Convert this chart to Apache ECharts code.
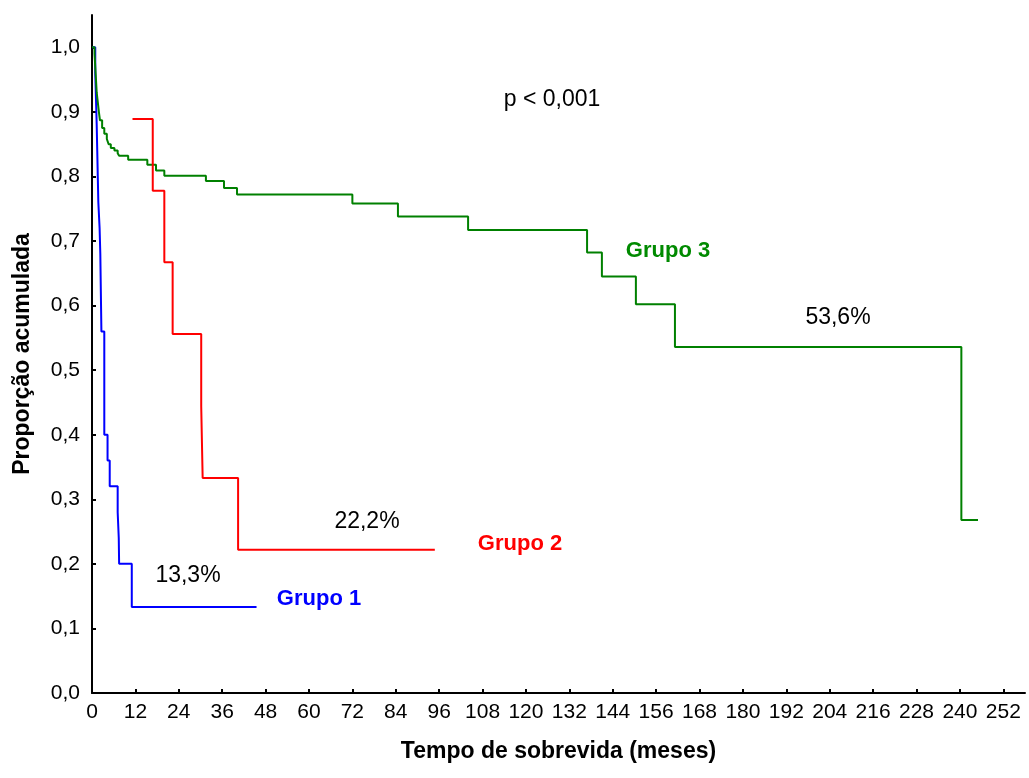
<!DOCTYPE html>
<html>
<head>
<meta charset="utf-8">
<script src="https://cdn.jsdelivr.net/npm/echarts@6/dist/echarts.min.js"></script>
<style>
html,body{margin:0;padding:0;background:#fff;}
#chart{width:1029px;height:778px;}
</style>
</head>
<body>
<div id="chart"></div>
<script>
// Group 1 (blue)
const g1Time = [0, 0.9, 1.1, 1.3, 1.45, 1.6, 1.75, 2.1, 2.3, 2.6, 3.4, 4.3, 4.9, 7.1, 7.4, 7.5, 11.0, 45.5];
const g1Surv = [1.0, 0.96, 0.92, 0.88, 0.84, 0.80, 0.76, 0.72, 0.68, 0.56, 0.40, 0.36, 0.32, 0.28, 0.24, 0.20, 0.133, 0.133];
// Group 2 (red)
const g2Time = [11.2, 16.8, 20.0, 22.3, 30.2, 30.6, 40.4, 94.8];
const g2Surv = [0.889, 0.778, 0.667, 0.556, 0.444, 0.333, 0.222, 0.222];
// Group 3 (green)
const g3Time = [0, 0.7, 0.9, 1.1, 1.3, 1.5, 1.7, 1.9, 2.2, 2.8, 3.4, 4.1, 4.6, 5.2, 6.2, 7.1, 7.5, 10.0, 15.3, 17.7, 20.0, 31.5, 36.5, 40.1, 72.0, 84.6, 104.0, 136.9, 141.0, 150.4, 161.2, 240.4, 245.0];
const g3Surv = [1.0, 0.99, 0.97, 0.95, 0.93, 0.92, 0.91, 0.90, 0.887, 0.875, 0.866, 0.858, 0.850, 0.844, 0.840, 0.836, 0.832, 0.826, 0.818, 0.809, 0.801, 0.793, 0.782, 0.772, 0.758, 0.738, 0.717, 0.682, 0.645, 0.602, 0.536, 0.268, 0.268];

const xTicks = [0,12,24,36,48,60,72,84,96,108,120,132,144,156,168,180,192,204,216,228,240,252];
const yTicks = [0,0.1,0.2,0.3,0.4,0.5,0.6,0.7,0.8,0.9,1.0];

const annotations = [
  {text: 'p < 0,001', x: 552, y: 100, color: '#000', bold: false},
  {text: '53,6%', x: 838, y: 318, color: '#000', bold: false},
  {text: '22,2%', x: 367, y: 522, color: '#000', bold: false},
  {text: '13,3%', x: 188, y: 576, color: '#000', bold: false},
  {text: 'Grupo 1', x: 319, y: 599, color: '#0000ff', bold: true},
  {text: 'Grupo 2', x: 520, y: 544, color: '#ff0000', bold: true},
  {text: 'Grupo 3', x: 668, y: 251, color: '#008a00', bold: true}
];

function zip(t, s){ return t.map((v,i)=>[v, s[i]]); }
const FONT = 'Liberation Sans, Arial, sans-serif';

const chart = echarts.init(document.getElementById('chart'), null, {renderer:'canvas'});
chart.setOption({
  animation: false,
  backgroundColor: '#fff',
  grid: {left: 92, right: 4, top: 15, bottom: 85, containLabel: false, outerBoundsMode: 'none'},
  xAxis: {
    type: 'value', min: 0, max: 258, interval: 12,
    name: 'Tempo de sobrevida (meses)', nameLocation: 'middle', nameGap: 47,
    nameTextStyle: {fontFamily: FONT, fontSize: 23, fontWeight: 'bold', color: '#000'},
    axisLine: {show: true, lineStyle: {color: '#000', width: 2}},
    axisTick: {show: true, inside: true, length: 4, lineStyle: {color: '#000', width: 2}, customValues: xTicks},
    axisLabel: {fontFamily: FONT, fontSize: 21, color: '#000', margin: 9, customValues: xTicks},
    splitLine: {show: false}
  },
  yAxis: {
    type: 'value', min: 0, max: 1.05, interval: 0.1,
    name: 'Proporção acumulada', nameLocation: 'middle', nameGap: 58, nameRotate: 90,
    nameTextStyle: {fontFamily: FONT, fontSize: 23, fontWeight: 'bold', color: '#000'},
    axisLine: {show: true, lineStyle: {color: '#000', width: 2}},
    axisTick: {show: true, inside: true, length: 4, lineStyle: {color: '#000', width: 2}, customValues: yTicks},
    axisLabel: {fontFamily: FONT, fontSize: 21, color: '#000', margin: 12, customValues: yTicks,
      formatter: v => v.toFixed(1).replace('.', ',')},
    splitLine: {show: false}
  },
  series: [
    {type: 'line', step: 'end', data: zip(g3Time, g3Surv), showSymbol: false, lineStyle: {color: '#008000', width: 2}, z: 2},
    {type: 'line', step: 'end', data: zip(g2Time, g2Surv), showSymbol: false, lineStyle: {color: '#ff0000', width: 2}, z: 3},
    {type: 'line', step: 'end', data: zip(g1Time, g1Surv), showSymbol: false, lineStyle: {color: '#0000ff', width: 2}, z: 1}
  ],
  graphic: annotations.map(a => ({
    type: 'text', x: a.x, y: a.y, z: 10,
    style: {text: a.text, fill: a.color, font: (a.bold ? 'bold ' : '') + (a.bold ? '22px ' : '23px ') + FONT,
      textAlign: 'center', textVerticalAlign: 'middle'}
  }))
});
</script>
</body>
</html>
